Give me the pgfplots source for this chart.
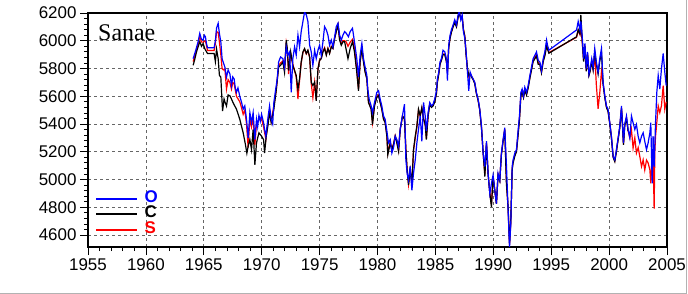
\documentclass[border=0pt]{standalone}
\usepackage{pgfplots}
\pgfplotsset{compat=1.18}
\usepackage{fontspec}
\setmainfont{Liberation Serif}
\newfontfamily\arial{Liberation Sans}

\pgfplotstableread{
x y
1964.08 5871
1964.30 5930
1964.50 5990
1964.65 6053
1964.80 6010
1964.94 6005
1965.05 6040
1965.14 6029
1965.22 5985
1965.32 5949
1965.89 5949
1966.00 6000
1966.10 6090
1966.24 6126
1966.35 6050
1966.47 5993
1966.58 5871
1966.70 5840
1966.82 5810
1966.96 5738
1967.10 5790
1967.25 5762
1967.39 5677
1967.50 5740
1967.62 5725
1967.72 5660
1967.82 5628
1967.95 5660
1968.11 5599
1968.25 5560
1968.40 5507
1968.54 5531
1968.69 5434
1968.83 5300
1968.98 5482
1969.12 5410
1969.26 5482
1969.41 5288
1969.55 5434
1969.65 5380
1969.76 5463
1969.88 5420
1969.99 5470
1970.16 5410
1970.25 5360
1970.36 5312
1970.45 5380
1970.56 5458
1970.68 5531
1970.82 5434
1970.95 5400
1971.05 5555
1971.17 5628
1971.34 5725
1971.46 5847
1971.63 5883
1971.83 5871
1971.97 5810
1972.12 5956
1972.26 5896
1972.41 5920
1972.55 5628
1972.69 5871
1972.84 5956
1972.98 5896
1973.13 6041
1973.27 5956
1973.41 6066
1973.56 6139
1973.70 6207
1973.85 6187
1973.99 6139
1974.14 5968
1974.28 5920
1974.42 5823
1974.57 5932
1974.71 5871
1974.86 5932
1975.00 5968
1975.14 5896
1975.29 5993
1975.43 6102
1975.58 6078
1975.72 6041
1975.86 5968
1976.01 6005
1976.15 5956
1976.30 6029
1976.44 6102
1976.59 6126
1976.73 6041
1976.87 6005
1977.02 6041
1977.16 6066
1977.31 6053
1977.49 6029
1977.64 6066
1977.84 6090
1978.01 5993
1978.21 5871
1978.36 5738
1978.50 5896
1978.65 5981
1978.79 5871
1978.93 5810
1979.08 5750
1979.16 5652
1979.28 5580
1979.45 5531
1979.57 5482
1979.74 5555
1979.94 5628
1980.09 5640
1980.23 5580
1980.37 5531
1980.52 5458
1980.66 5434
1980.81 5349
1980.95 5264
1981.10 5288
1981.24 5191
1981.38 5227
1981.53 5312
1981.67 5288
1981.82 5239
1981.96 5361
1982.10 5434
1982.33 5543
1982.45 5142
1982.56 5045
1982.68 4996
1982.82 5094
1982.97 4923
1983.11 5045
1983.26 5142
1983.40 5264
1983.54 5361
1983.69 5458
1983.83 5276
1983.98 5555
1984.12 5458
1984.22 5349
1984.37 5482
1984.51 5555
1984.66 5531
1984.80 5543
1984.94 5580
1985.09 5640
1985.17 5725
1985.29 5774
1985.40 5847
1985.52 5871
1985.66 5932
1985.81 5920
1985.95 5871
1986.04 5713
1986.15 5968
1986.27 6041
1986.38 6078
1986.53 6114
1986.67 6151
1986.82 6114
1986.96 6187
1987.07 6211
1987.19 6151
1987.31 6187
1987.42 6066
1987.54 6017
1987.65 5920
1987.77 5774
1987.88 5640
1988.00 5774
1988.11 5750
1988.26 5725
1988.40 5701
1988.54 5628
1988.69 5580
1988.83 5507
1988.98 5385
1989.12 5191
1989.27 5094
1989.41 5276
1989.55 5045
1989.70 4899
1989.84 4972
1989.98 5033
1990.13 4923
1990.27 4826
1990.41 5045
1990.56 4996
1990.70 5191
1990.85 5288
1990.99 5373
1991.14 5094
1991.28 4777
1991.40 4510
1991.51 4680
1991.63 5094
1991.71 5142
1991.86 5191
1992.00 5215
1992.15 5361
1992.26 5458
1992.38 5628
1992.49 5652
1992.61 5604
1992.72 5665
1992.87 5628
1993.01 5677
1993.16 5750
1993.30 5810
1993.44 5871
1993.59 5896
1993.73 5920
1993.88 5859
1994.02 5847
1994.16 5786
1994.31 5871
1994.45 5920
1994.60 6005
1994.68 5968
1994.80 5932
1997.19 6078
1997.33 6139
1997.48 6078
1997.56 6139
1997.68 6029
1997.80 5871
1997.91 5981
1998.03 5800
1998.14 5920
1998.26 5760
1998.36 5798
1998.50 5871
1998.62 5810
1998.76 5944
1998.90 5847
1999.05 5774
1999.19 5871
1999.34 5944
1999.48 5701
1999.63 5604
1999.77 5531
1999.91 5507
2000.06 5410
2000.20 5312
2000.35 5167
2000.49 5142
2000.63 5215
2000.78 5300
2000.92 5385
2001.07 5531
2001.15 5410
2001.24 5264
2001.35 5397
2001.50 5458
2001.64 5361
2001.79 5300
2001.93 5458
2002.07 5410
2002.22 5361
2002.36 5397
2002.51 5312
2002.65 5264
2002.80 5312
2002.94 5337
2003.08 5276
2003.23 5215
2003.37 5264
2003.52 5337
2003.60 5410
2003.72 4972
2003.80 5312
2003.89 5094
2004.01 5410
2004.12 5628
2004.24 5750
2004.38 5652
2004.52 5798
2004.67 5908
2004.81 5774
2004.93 5677
}\seriesO

\pgfplotstableread{
x y
1964.08 5823
1964.20 5860
1964.37 5920
1964.65 5993
1964.80 5960
1964.94 5980
1965.10 5940
1965.32 5908
1965.89 5908
1966.00 5850
1966.10 5940
1966.24 5871
1966.35 5750
1966.47 5738
1966.55 5604
1966.62 5494
1966.75 5580
1966.82 5560
1966.96 5530
1967.10 5610
1967.25 5604
1967.39 5580
1967.55 5550
1967.82 5507
1968.11 5434
1968.40 5337
1968.60 5250
1968.72 5190
1968.83 5240
1968.98 5288
1969.12 5215
1969.26 5361
1969.41 5106
1969.55 5264
1969.76 5337
1969.99 5312
1970.16 5288
1970.25 5191
1970.39 5312
1970.53 5385
1970.68 5482
1970.82 5410
1971.05 5507
1971.25 5640
1971.46 5810
1971.63 5823
1971.83 5847
1971.97 5774
1972.12 6005
1972.21 5944
1972.32 5786
1972.50 5920
1972.69 5823
1972.98 5750
1973.13 5652
1973.27 5725
1973.41 5847
1973.56 5920
1973.70 5944
1973.85 5908
1973.99 5932
1974.14 5883
1974.28 5701
1974.42 5677
1974.57 5701
1974.71 5567
1974.86 5798
1975.00 5859
1975.14 5871
1975.29 5920
1975.43 5944
1975.58 5896
1975.72 5944
1975.86 5908
1976.01 5956
1976.15 5944
1976.30 6017
1976.44 6066
1976.59 6114
1976.73 6005
1976.87 5968
1977.02 5993
1977.16 5993
1977.31 5930
1977.45 5871
1977.64 5944
1977.84 5993
1978.01 5920
1978.21 5774
1978.36 5640
1978.50 5847
1978.65 5944
1978.79 5847
1978.93 5774
1979.08 5725
1979.22 5555
1979.45 5507
1979.57 5397
1979.74 5531
1979.94 5592
1980.09 5604
1980.23 5555
1980.37 5507
1980.52 5434
1980.66 5410
1980.81 5312
1980.89 5179
1981.10 5264
1981.24 5215
1981.38 5252
1981.53 5312
1981.67 5264
1981.82 5203
1981.96 5361
1982.16 5458
1982.33 5434
1982.45 5215
1982.56 5069
1982.68 4960
1982.82 5069
1982.97 4972
1983.11 5215
1983.26 5312
1983.40 5385
1983.54 5507
1983.69 5458
1983.83 5519
1983.98 5434
1984.12 5397
1984.22 5288
1984.37 5458
1984.51 5540
1984.66 5520
1984.80 5530
1984.94 5560
1985.09 5620
1985.17 5700
1985.29 5760
1985.40 5830
1985.52 5860
1985.66 5900
1985.81 5900
1985.95 5850
1986.04 5780
1986.15 5950
1986.27 6020
1986.38 6060
1986.53 6100
1986.67 6130
1986.82 6100
1986.96 6170
1987.07 6200
1987.19 6160
1987.31 6170
1987.42 6080
1987.54 6030
1987.65 5900
1987.77 5800
1987.88 5750
1988.00 5760
1988.11 5740
1988.26 5720
1988.40 5690
1988.54 5620
1988.69 5570
1988.83 5500
1988.98 5370
1989.12 5200
1989.27 5021
1989.41 5260
1989.55 5040
1989.70 4900
1989.84 4802
1989.98 5020
1990.13 4920
1990.27 4826
1990.41 5030
1990.56 4990
1990.70 5180
1990.85 5280
1990.99 5360
1991.13 4972
1991.28 4800
1991.40 4540
1991.51 4700
1991.63 5070
1991.71 5120
1991.86 5170
1992.00 5200
1992.15 5330
1992.26 5430
1992.38 5600
1992.49 5630
1992.61 5590
1992.72 5640
1992.87 5610
1993.01 5660
1993.16 5730
1993.30 5790
1993.44 5850
1993.59 5870
1993.73 5890
1993.88 5830
1994.02 5830
1994.16 5770
1994.31 5850
1994.45 5890
1994.60 5960
1994.68 5940
1994.80 5910
1997.19 6029
1997.33 6080
1997.48 6050
1997.56 6187
1997.68 6000
1997.80 5850
1997.91 5960
1998.03 5780
1998.14 5900
1998.26 5750
1998.36 5780
1998.50 5850
1998.62 5790
1998.76 5920
1998.90 5830
1999.05 5760
1999.19 5850
1999.34 5920
1999.48 5690
1999.63 5590
1999.77 5520
1999.91 5490
2000.06 5400
2000.20 5300
2000.35 5160
2000.49 5130
2000.63 5200
2000.78 5290
2000.92 5370
2001.07 5510
2001.15 5400
2001.24 5250
2001.35 5390
2001.50 5440
2001.64 5350
}\seriesC

\pgfplotstableread{
x y
1964.08 5850
1964.30 5910
1964.50 5970
1964.65 6030
1964.80 5990
1964.94 5990
1965.14 6000
1965.32 5930
1965.89 5930
1966.00 5980
1966.10 6066
1966.24 6060
1966.35 5990
1966.47 5900
1966.58 5800
1966.70 5790
1966.82 5798
1966.96 5652
1967.10 5720
1967.25 5700
1967.39 5652
1967.50 5700
1967.62 5690
1967.82 5600
1968.11 5560
1968.25 5520
1968.40 5470
1968.54 5500
1968.69 5400
1968.83 5230
1968.98 5440
1969.12 5380
1969.26 5450
1969.41 5250
1969.55 5400
1969.76 5430
1969.99 5440
1970.16 5380
1970.36 5290
1970.56 5430
1970.68 5500
1970.82 5420
1971.05 5530
1971.25 5640
1971.46 5820
1971.63 5840
1971.83 5855
1971.97 5790
1972.12 5980
1972.21 5930
1972.32 5760
1972.50 5910
1972.69 5830
1972.98 5740
1973.13 5580
1973.27 5715
1973.41 5840
1973.56 5915
1973.70 5940
1973.85 5905
1973.99 5928
1974.14 5880
1974.28 5690
1974.42 5590
1974.57 5700
1974.71 5570
1974.86 5800
1975.00 5860
1975.14 5872
1975.29 5925
1975.43 5950
1975.58 5900
1975.72 5945
1975.86 5910
1976.01 5960
1976.15 5945
1976.30 6020
1976.44 6070
1976.59 6115
1976.73 6010
1976.87 5980
1977.02 6000
1977.16 6000
1977.31 5990
1977.45 5960
1977.64 5990
1977.84 6010
1978.01 5950
1978.21 5790
1978.36 5650
1978.50 5855
1978.65 5950
1978.79 5855
1978.93 5780
1979.08 5730
1979.22 5560
1979.45 5512
1979.57 5410
1979.74 5535
1979.94 5600
1980.09 5610
1980.23 5560
1980.37 5512
1980.52 5440
1980.66 5415
1980.81 5320
1980.89 5190
1981.10 5270
1981.24 5220
1981.38 5255
1981.53 5315
1981.67 5270
1981.82 5210
1981.96 5361
1982.16 5458
1982.33 5440
1982.45 5220
1982.56 5070
1982.68 4965
1982.82 5070
1982.97 4975
1983.11 5210
1983.26 5300
1983.40 5380
1983.54 5500
1983.69 5460
1983.83 5515
1983.98 5440
1984.12 5400
1984.22 5295
1984.37 5460
1984.51 5545
1984.66 5525
1984.80 5535
1984.94 5565
1985.09 5625
1985.17 5705
1985.29 5765
1985.40 5835
1985.52 5862
1985.66 5905
1985.81 5905
1985.95 5855
1986.04 5775
1986.15 5955
1986.27 6025
1986.38 6065
1986.53 6105
1986.67 6135
1986.82 6105
1986.96 6175
1987.07 6200
1987.19 6160
1987.31 6175
1987.42 6085
1987.54 6035
1987.65 5905
1987.77 5790
1987.88 5740
1988.00 5765
1988.11 5745
1988.26 5722
1988.40 5695
1988.54 5622
1988.69 5572
1988.83 5502
1988.98 5375
1989.12 5195
1989.27 5040
1989.41 5265
1989.55 5042
1989.70 4902
1989.84 4820
1989.98 5025
1990.13 4922
1990.27 4828
1990.41 5035
1990.56 4992
1990.70 5185
1990.85 5282
1990.99 5365
1991.13 5000
1991.28 4790
1991.40 4530
1991.51 4690
1991.63 5080
1991.71 5130
1991.86 5180
1992.00 5205
1992.15 5340
1992.26 5440
1992.38 5610
1992.49 5640
1992.61 5595
1992.72 5650
1992.87 5615
1993.01 5665
1993.16 5738
1993.30 5798
1993.44 5858
1993.59 5880
1993.73 5900
1993.88 5840
1994.02 5835
1994.16 5775
1994.31 5858
1994.45 5900
1994.60 5975
1994.68 5950
1994.80 5915
1997.19 6025
1997.33 6075
1997.48 6045
1997.56 6100
1997.68 5990
1997.80 5860
1997.91 5965
1998.03 5785
1998.14 5905
1998.26 5755
1998.36 5785
1998.50 5855
1998.62 5795
1998.76 5900
1998.90 5680
1999.05 5510
1999.19 5620
1999.34 5780
1999.48 5690
1999.63 5595
1999.77 5525
1999.91 5495
2000.06 5405
2000.20 5305
2000.35 5162
2000.49 5135
2000.63 5205
2000.78 5295
2000.92 5375
2001.07 5515
2001.15 5405
2001.24 5255
2001.35 5392
2001.50 5445
2001.64 5352
2001.79 5300
2001.93 5360
2002.07 5227
2002.22 5300
2002.36 5191
2002.51 5230
2002.65 5167
2002.80 5094
2002.94 5142
2003.08 5069
2003.23 5140
2003.37 5120
2003.52 5069
2003.60 4972
2003.72 5191
2003.80 5160
2003.89 4790
2003.95 5200
2004.01 5312
2004.12 5410
2004.24 5531
2004.38 5482
2004.52 5531
2004.67 5677
2004.81 5507
2004.93 5560
}\seriesS

\begin{document}
\begin{tikzpicture}
\begin{axis}[
  scale only axis, width=579bp, height=234bp,
  xmin=1955, xmax=2005, ymin=4514, ymax=6200,
  xtick={1955,1960,...,2005}, ytick={4600,4800,...,6200},
  minor x tick num=4, minor y tick num=4,
  tick align=outside, major tick length=8bp, minor tick length=4bp,
  xtick pos=bottom, ytick pos=left,
  xmajorgrids, ymajorgrids,
  major grid style={gray!80!black, line width=0.8bp, dash pattern=on 3bp off 3bp},
  axis line style={line width=1.3bp},
  tick style={black, line width=0.8bp},
  tick label style={font=\arial\fontsize{17}{17}\selectfont},
  /pgf/number format/1000 sep={},
  /pgf/number format/assume math mode=true,
  reverse legend,
  legend image code/.code={\draw[#1, line width=2bp] (0bp,0bp) -- (41bp,0bp);},
  legend style={at={(0.012,0.14)}, anchor=west, draw=none, fill=none,
    inner sep=0pt, row sep=-2bp,
    font=\arial\bfseries\fontsize{17}{17}\selectfont,
    nodes={inner sep=1.5bp, text height=11bp, text depth=3.5bp},
    /tikz/every odd column/.append style={column sep=5bp}},
  legend cell align=left,
]
\addplot[red, line width=1.2bp, no markers] table {\seriesS};
\addlegendentry{\textcolor{red}{S}}
\addplot[black, line width=1.2bp, no markers] table {\seriesC};
\addlegendentry{\textcolor{black}{C}}
\addplot[blue, line width=1.2bp, no markers] table {\seriesO};
\addlegendentry{\textcolor{blue}{O}}
\coordinate (SW) at (rel axis cs:0,0);
\node[anchor=base west, inner sep=0pt, font=\fontsize{24}{24}\selectfont] at (rel axis cs:0.0173,0.8846) {Sanae};
\end{axis}
\draw[gray!60, line width=1bp] ([shift={(-88bp,-46.5bp)}]SW) -- ([shift={(598.5bp,-46.5bp)}]SW) -- ([shift={(598.5bp,247bp)}]SW);
\pgfresetboundingbox
\path ([shift={(-88bp,-47bp)}]SW) rectangle ([shift={(600bp,247bp)}]SW);
\end{tikzpicture}
\end{document}
